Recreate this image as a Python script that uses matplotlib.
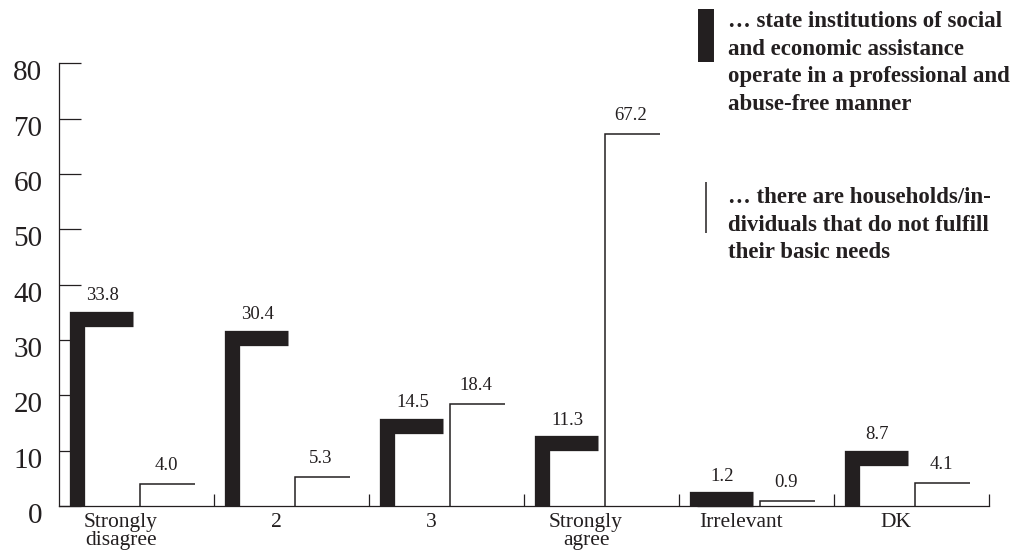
import matplotlib.pyplot as plt
import matplotlib.transforms as mtransforms
from matplotlib.lines import Line2D

categories = ['Strongly\ndisagree', '2', '3', 'Strongly\nagree', 'Irrelevant', 'DK']
institutions = [33.8, 30.4, 14.5, 11.3, 1.2, 8.7]
households = [4.0, 5.3, 18.4, 67.2, 0.9, 4.1]
yticks = [0, 10, 20, 30, 40, 50, 60, 70, 80]

legend_institutions = ('… state institutions of social\nand economic assistance\n'
                       'operate in a professional and\nabuse-free manner')
legend_households = '… there are households/in-\ndividuals that do not fulfill\ntheir basic needs'

ink = '#231f20'
plt.rcParams['font.family'] = ['Liberation Serif', 'DejaVu Serif']

fig = plt.figure(figsize=(10.32, 5.55), dpi=100)
ax = fig.add_axes([59 / 1032, 49 / 555, 930 / 1032, 442.7 / 555])
ax.set_xlim(0, len(categories))
ax.set_ylim(0, 80)

# thick "Γ" bars: first series
for i, v in enumerate(institutions):
    ax.plot([i + 0.118, i + 0.118, i + 0.48], [0, v, v], color=ink, lw=11,
            solid_joinstyle='miter', solid_capstyle='butt', clip_on=False)
    ax.annotate(f'{v:.1f}', (i + 0.28, v), xytext=(0, 13.5), textcoords='offset points',
                ha='center', va='baseline', fontsize=13.5, color=ink)

# thin "Γ" bars: second series
for i, v in enumerate(households):
    ax.plot([i + 0.52, i + 0.52, i + 0.88], [0, v, v], color=ink, lw=1.1,
            solid_joinstyle='miter', solid_capstyle='butt', clip_on=False)
    ax.annotate(f'{v:.1f}', (i + 0.69, v), xytext=(0, 10), textcoords='offset points',
                ha='center', va='baseline', fontsize=13.5, color=ink)

for s in ['top', 'right']:
    ax.spines[s].set_visible(False)
for s in ['left', 'bottom']:
    ax.spines[s].set_linewidth(0.9)
    ax.spines[s].set_color(ink)

ax.set_yticks(yticks)
ax.set_yticklabels([str(t) for t in yticks])
ax.tick_params(axis='y', direction='in', length=16, width=0.9, color=ink,
               labelsize=21, labelcolor=ink, pad=12)
offset = mtransforms.ScaledTranslation(0, -7 / 100, fig.dpi_scale_trans)
for lab in ax.get_yticklabels():
    lab.set_transform(lab.get_transform() + offset)

ax.set_xticks([i + 0.4 for i in range(len(categories))])
ax.set_xticklabels(categories, linespacing=0.95)
ax.set_xticks(range(1, len(categories) + 1), minor=True)
ax.tick_params(axis='x', which='major', length=0, labelsize=15.5, labelcolor=ink, pad=5)
ax.tick_params(axis='x', which='minor', direction='in', length=8.6, width=0.9, color=ink)

# legend
fig.add_artist(Line2D([706 / 1032] * 2, [1 - 9 / 555, 1 - 62 / 555], lw=11.5, color=ink,
                      solid_capstyle='butt', transform=fig.transFigure))
fig.add_artist(Line2D([706 / 1032] * 2, [1 - 182 / 555, 1 - 233 / 555], lw=1.1, color=ink,
                      solid_capstyle='butt', transform=fig.transFigure))
fig.text(728 / 1032, 1 - 11 / 555, legend_institutions, ha='left', va='top', fontsize=16.5,
         fontweight='bold', color=ink, linespacing=1.42)
fig.text(728 / 1032, 1 - 187 / 555, legend_households, ha='left', va='top', fontsize=16.5,
         fontweight='bold', color=ink, linespacing=1.42)

fig.savefig('out.png', dpi=100)
